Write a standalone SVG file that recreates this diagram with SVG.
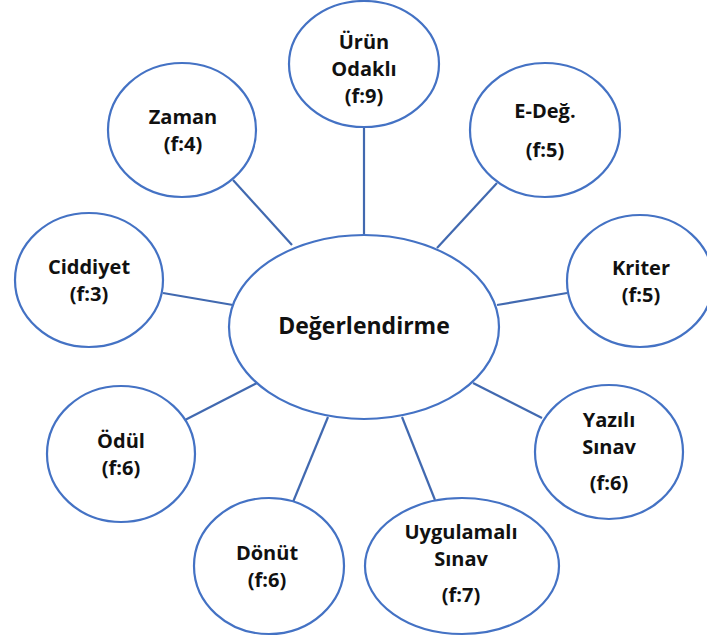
<svg xmlns="http://www.w3.org/2000/svg" width="707" height="639" viewBox="0 0 707 639">
  <style>
    .node ellipse { fill: #ffffff; stroke: #4472C4; stroke-width: 2.2; }
    .node text { font-family: "Open Sans", "Noto Sans", "DejaVu Sans", sans-serif; font-weight: bold; font-size: 20px; fill: #111111; text-anchor: middle; }
    #center text { font-size: 23px; }
    #connectors line { stroke: #4169B0; stroke-width: 2.2; }
  </style>
  <rect width="707" height="639" fill="#ffffff"/>

  <!-- spokes from the central ellipse to each outer node -->
  <g id="connectors">
    <line x1="364" y1="127" x2="364" y2="236"/>
    <line x1="233" y1="180" x2="292" y2="245"/>
    <line x1="497" y1="183" x2="437" y2="248"/>
    <line x1="163" y1="293" x2="233" y2="305"/>
    <line x1="567" y1="293" x2="497" y2="305"/>
    <line x1="185" y1="420" x2="257" y2="383"/>
    <line x1="542" y1="418" x2="473" y2="383"/>
    <line x1="293" y1="502" x2="328" y2="417"/>
    <line x1="435" y1="500" x2="402" y2="417"/>
  </g>

  <g id="center" class="node">
    <ellipse cx="364" cy="327" rx="135" ry="92"/>
    <text x="364" y="334">Değerlendirme</text>
  </g>

  <g id="urun-odakli" class="node">
    <ellipse cx="364" cy="64" rx="75" ry="63"/>
    <text x="364" y="49">Ürün</text>
    <text x="364" y="76">Odaklı</text>
    <text x="364" y="103">(f:9)</text>
  </g>

  <g id="zaman" class="node">
    <ellipse cx="182" cy="130" rx="74" ry="67"/>
    <text x="183" y="124">Zaman</text>
    <text x="183" y="151">(f:4)</text>
  </g>

  <g id="e-deg" class="node">
    <ellipse cx="545" cy="130" rx="75" ry="67"/>
    <text x="545" y="118">E-Değ.</text>
    <text x="545" y="157">(f:5)</text>
  </g>

  <g id="ciddiyet" class="node">
    <ellipse cx="89" cy="280" rx="74" ry="67"/>
    <text x="89" y="274">Ciddiyet</text>
    <text x="89" y="301">(f:3)</text>
  </g>

  <g id="kriter" class="node">
    <ellipse cx="640" cy="281" rx="73" ry="66"/>
    <text x="641" y="275">Kriter</text>
    <text x="641" y="302">(f:5)</text>
  </g>

  <g id="odul" class="node">
    <ellipse cx="121" cy="454" rx="74" ry="68"/>
    <text x="121" y="448">Ödül</text>
    <text x="121" y="475">(f:6)</text>
  </g>

  <g id="yazili-sinav" class="node">
    <ellipse cx="609" cy="452" rx="74" ry="67"/>
    <text x="609" y="427">Yazılı</text>
    <text x="609" y="454">Sınav</text>
    <text x="609" y="490">(f:6)</text>
  </g>

  <g id="donut" class="node">
    <ellipse cx="269" cy="566" rx="75" ry="68"/>
    <text x="267" y="560">Dönüt</text>
    <text x="267" y="587">(f:6)</text>
  </g>

  <g id="uygulamali-sinav" class="node">
    <ellipse cx="462" cy="566" rx="97" ry="68"/>
    <text x="461" y="539">Uygulamalı</text>
    <text x="461" y="566">Sınav</text>
    <text x="461" y="602">(f:7)</text>
  </g>
</svg>
